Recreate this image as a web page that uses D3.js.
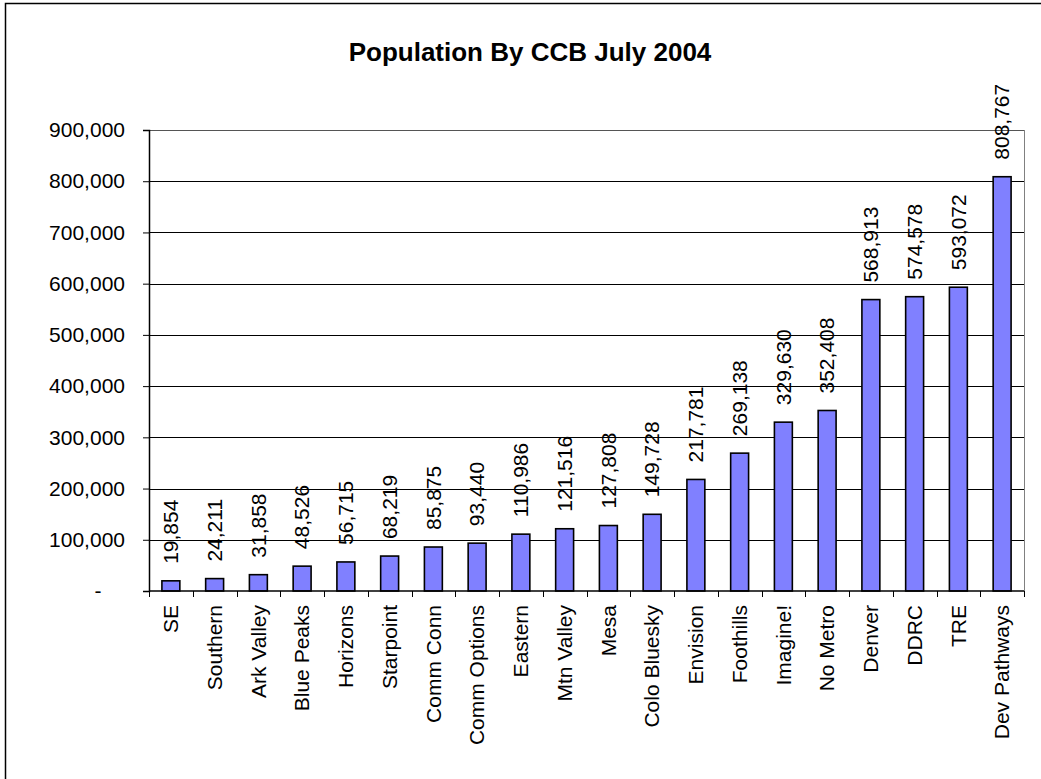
<!DOCTYPE html>
<html>
<head>
<meta charset="utf-8">
<script src="https://cdn.jsdelivr.net/npm/d3@7"></script>
<style>
  body { margin: 0; background: #fff; }
  svg { display: block; font-family: Arial, "Liberation Sans", sans-serif; }
</style>
</head>
<body>
<div id="wrap"></div>
<script>
const categories = ["SE", "Southern", "Ark Valley", "Blue Peaks", "Horizons", "Starpoint",
  "Comm Conn", "Comm Options", "Eastern", "Mtn Valley", "Mesa", "Colo Bluesky",
  "Envision", "Foothills", "Imagine!", "No Metro", "Denver", "DDRC", "TRE", "Dev Pathways"];
const population = [19854, 24211, 31858, 48526, 56715, 68219, 85875, 93440, 110986, 121516,
  127808, 149728, 217781, 269138, 329630, 352408, 568913, 574578, 593072, 808767];
const yTicks = [0, 100000, 200000, 300000, 400000, 500000, 600000, 700000, 800000, 900000];
const title = "Population By CCB July 2004";

const width = 1041;
const height = 779;

// plot area
const margin = { left: 149, right: 17, top: 130, bottom: 188 };
const plotW = width - margin.left - margin.right;
const plotH = height - margin.top - margin.bottom;

const x = d3.scaleBand()
  .domain(categories)
  .range([0, plotW])
  .paddingInner(0.59)
  .paddingOuter(0.295);

const y = d3.scaleLinear()
  .domain([0, 900000])
  .range([plotH, 0]);

const fmt = d3.format(",");

const svg = d3.select("#wrap").append("svg")
  .attr("width", width)
  .attr("height", height);

// outer chart border (right/bottom edges fall off the picture)
svg.append("rect")
  .attr("x", 5.5).attr("y", 3.5)
  .attr("width", width).attr("height", height)
  .attr("fill", "none")
  .attr("stroke", "#000")
  .attr("stroke-width", 1.5);

svg.append("text")
  .attr("x", 530)
  .attr("y", 61)
  .attr("text-anchor", "middle")
  .attr("font-weight", "bold")
  .attr("font-size", 26)
  .text(title);

const g = svg.append("g")
  .attr("transform", `translate(${margin.left},${margin.top})`);

// gridlines (top one doubles as the gray plot border)
g.append("g")
  .selectAll("line")
  .data(yTicks.filter(d => d > 0))
  .join("line")
  .attr("x1", 0).attr("x2", plotW)
  .attr("y1", d => Math.round(y(d)) + 0.5)
  .attr("y2", d => Math.round(y(d)) + 0.5)
  .attr("stroke", d => d === 900000 ? "#555" : "#000")
  .attr("stroke-width", 1);

// plot area right border
g.append("line")
  .attr("x1", plotW + 0.5).attr("x2", plotW + 0.5)
  .attr("y1", 0).attr("y2", plotH)
  .attr("stroke", "#808080");

// bars
g.append("g")
  .selectAll("rect")
  .data(categories)
  .join("rect")
  .attr("x", d => x(d))
  .attr("y", (d, i) => y(population[i]))
  .attr("width", x.bandwidth())
  .attr("height", (d, i) => plotH - y(population[i]))
  .attr("fill", "#8080ff")
  .attr("stroke", "#000")
  .attr("stroke-width", 1.6);

// value labels
g.append("g")
  .selectAll("text")
  .data(categories)
  .join("text")
  .attr("transform", (d, i) =>
    `translate(${x(d) + x.bandwidth() / 2},${y(population[i]) - 17}) rotate(-90)`)
  .attr("dy", "0.35em")
  .attr("font-size", 21)
  .text((d, i) => fmt(population[i]));

// y axis
const yAxis = d3.axisLeft(y)
  .tickValues(yTicks)
  .tickSize(6)
  .tickPadding(18)
  .tickFormat(d => d === 0 ? "-" : fmt(d));

const ya = g.append("g").call(yAxis);
ya.select(".domain").attr("stroke", "#000").attr("stroke-width", 1.5);
ya.selectAll(".tick line").attr("stroke", "#000");
ya.selectAll(".tick text")
  .attr("font-size", 21)
  .attr("font-family", "Arial, 'Liberation Sans', sans-serif")
  .attr("fill", "#000");
ya.selectAll(".tick text").filter(d => d === 0)
  .attr("text-anchor", "middle")
  .attr("x", -51);

// x axis: baseline, ticks at band edges, rotated labels
const edgeOff = x.step() * x.paddingInner() / 2;
const edges = categories.map(d => x(d) - edgeOff).concat([plotW]);

const xa = g.append("g").attr("transform", `translate(0,${plotH})`);
xa.append("line")
  .attr("x1", 0).attr("x2", plotW)
  .attr("stroke", "#000").attr("stroke-width", 1.5);
xa.selectAll("line.tk")
  .data(edges)
  .join("line")
  .attr("class", "tk")
  .attr("x1", d => Math.round(d) + 0.5).attr("x2", d => Math.round(d) + 0.5)
  .attr("y1", 0).attr("y2", 6)
  .attr("stroke", "#000");
xa.selectAll("text")
  .data(categories)
  .join("text")
  .attr("transform", d => `translate(${x(d) + x.bandwidth() / 2},14) rotate(-90)`)
  .attr("text-anchor", "end")
  .attr("dy", "0.35em")
  .attr("font-size", 21)
  .text(d => d);
</script>
</body>
</html>
